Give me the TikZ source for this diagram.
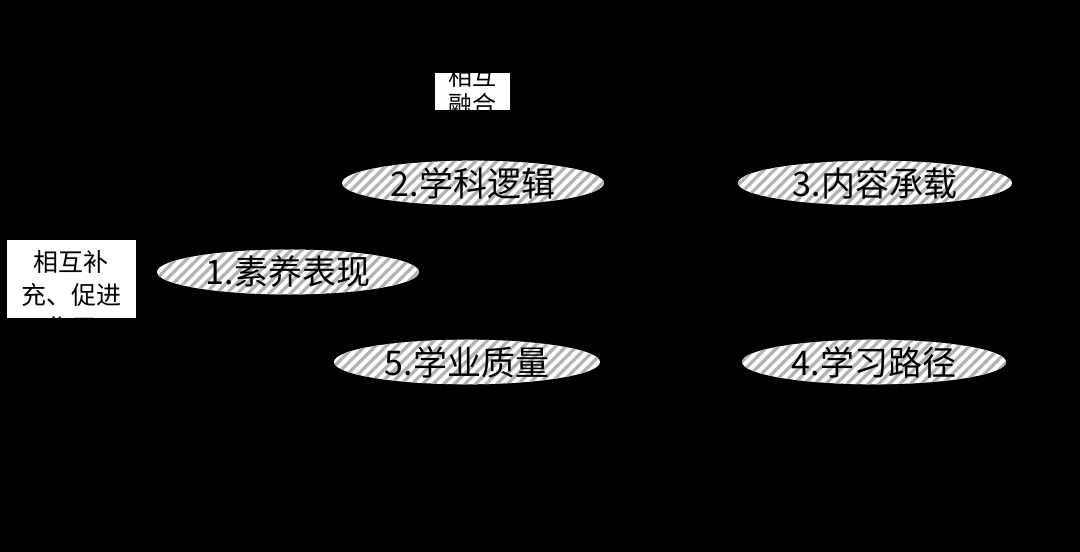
\documentclass[tikz,border=0pt]{standalone}
\usepackage{fontspec}
\setmainfont{Noto Sans CJK SC}
\usetikzlibrary{patterns.meta,shapes.geometric}
\begin{document}
\begin{tikzpicture}[x=1pt,y=-1pt,
  oval/.style={ellipse, minimum width=#1, minimum height=44pt, inner sep=0pt,
    fill=white,
    postaction={pattern={Lines[angle=45,distance=7.5pt,line width=3.2pt]}, pattern color=black!30},
    font=\fontsize{34}{36}\selectfont, text=black},
  lab/.style={align=center, inner sep=0pt, text=black, font=\fontsize{25}{33}\selectfont}]
\fill[black] (0,0) rectangle (1080,552);
\useasboundingbox (0,0) rectangle (1080,552);
% ellipses
\node[oval=262pt] (n2) at (473,183) {2.学科逻辑};
\node[oval=274pt] (n3) at (875,183) {3.内容承载};
\node[oval=262pt] (n1) at (288,272) {1.素养表现};
\node[oval=266pt] (n5) at (467,362) {5.学业质量};
\node[oval=264pt] (n4) at (874,362) {4.学习路径};
% label top
\begin{scope}
\clip (435,73) rectangle (510,110);
\fill[white] (435,73) rectangle (510,110);
\node[lab, font=\fontsize{24}{28}\selectfont] (lt) at (472,90) {相互\\融合};
\end{scope}
% label left
\begin{scope}
\clip (7,240) rectangle (136,318);
\fill[white] (7,240) rectangle (136,318);
\node[lab, anchor=north] (ll) at (71.5,250) {相互补\\充、促进\\作用};
\end{scope}
\end{tikzpicture}
\end{document}
